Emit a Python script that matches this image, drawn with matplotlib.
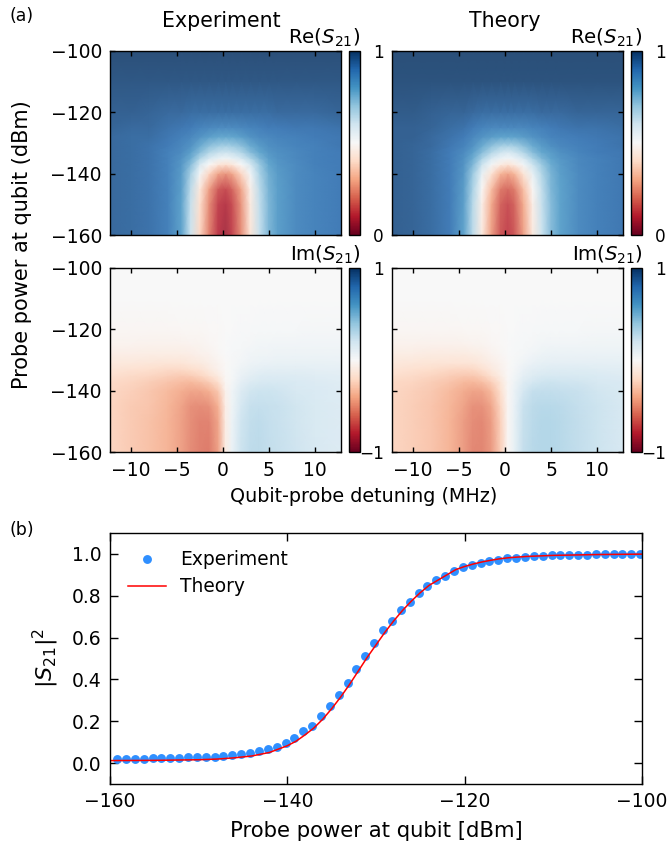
import numpy as np
import matplotlib
matplotlib.use("Agg")
import matplotlib.pyplot as plt
from matplotlib.cm import ScalarMappable
from matplotlib.colors import Normalize, ListedColormap

W, H = 668, 841
detuning = [-12.25,-10,-8,-6,-4.5,-3.5,-2.5,-1.5,-0.5,0.3,1,2,3,4,5,6,8,10,12.85]
power = [-160,-150,-145,-140,-137,-135,-133,-131,-128,-125,-120,-110,-100]

re_exp = [
[.94,.93,.92,.89,.80,.62,.38,.22,.10,.07,.12,.24,.42,.63,.75,.81,.86,.88,.90],
[.94,.93,.92,.89,.80,.63,.40,.24,.12,.09,.13,.25,.44,.64,.75,.81,.86,.88,.90],
[.94,.93,.92,.89,.81,.65,.43,.27,.16,.13,.17,.28,.46,.65,.76,.81,.86,.88,.90],
[.94,.93,.92,.89,.82,.69,.52,.38,.28,.25,.28,.38,.52,.68,.77,.82,.86,.88,.90],
[.94,.93,.92,.89,.83,.74,.60,.50,.43,.41,.43,.50,.60,.71,.79,.83,.86,.89,.90],
[.94,.93,.92,.89,.84,.78,.67,.60,.55,.53,.55,.60,.67,.75,.81,.84,.87,.89,.90],
[.94,.93,.92,.89,.86,.81,.74,.67,.63,.62,.63,.67,.74,.79,.83,.85,.87,.89,.90],
[.94,.93,.92,.90,.87,.84,.78,.73,.70,.69,.70,.73,.78,.82,.85,.86,.88,.89,.91],
[.94,.93,.93,.91,.89,.87,.84,.81,.79,.79,.79,.81,.84,.86,.87,.88,.89,.90,.91],
[.95,.94,.94,.92,.91,.90,.88,.87,.86,.86,.86,.87,.88,.89,.90,.90,.91,.91,.92],
[.96,.96,.95,.94,.94,.93,.93,.93,.93,.93,.93,.93,.93,.93,.93,.94,.94,.94,.95],
[.98,.98,.98,.98,.98,.98,.98,.98,.98,.98,.98,.98,.98,.98,.98,.98,.98,.98,.98],
[1.,1.,1.,1.,1.,1.,1.,1.,1.,1.,1.,1.,1.,1.,1.,1.,1.,1.,1.],
]
re_th = [
[.96,.95,.93,.90,.80,.65,.44,.27,.15,.12,.15,.27,.44,.62,.74,.80,.86,.89,.91],
[.96,.95,.93,.90,.81,.66,.46,.29,.17,.14,.17,.29,.46,.63,.74,.80,.86,.89,.91],
[.96,.95,.93,.90,.82,.68,.49,.33,.21,.18,.21,.33,.49,.64,.75,.80,.86,.89,.91],
[.96,.95,.93,.90,.83,.71,.55,.42,.31,.28,.31,.42,.55,.67,.76,.81,.86,.89,.91],
[.96,.95,.93,.90,.84,.75,.62,.52,.45,.42,.45,.52,.62,.71,.78,.82,.87,.89,.91],
[.96,.95,.93,.90,.85,.78,.68,.60,.54,.52,.54,.60,.68,.75,.80,.83,.87,.89,.91],
[.96,.95,.93,.90,.86,.81,.74,.67,.62,.60,.62,.67,.74,.79,.82,.85,.88,.90,.91],
[.96,.95,.94,.91,.88,.84,.78,.73,.69,.68,.69,.73,.78,.82,.85,.87,.89,.90,.92],
[.96,.96,.94,.92,.90,.87,.84,.82,.80,.80,.80,.82,.84,.86,.88,.89,.90,.91,.92],
[.96,.96,.95,.93,.92,.90,.88,.87,.87,.87,.87,.87,.88,.89,.90,.91,.92,.92,.93],
[.97,.97,.96,.95,.95,.94,.93,.93,.93,.93,.93,.93,.93,.94,.94,.94,.95,.95,.95],
[.99,.99,.99,.99,.99,.99,.99,.99,.99,.99,.99,.99,.99,.99,.99,.99,.99,.99,.99],
[1.,1.,1.,1.,1.,1.,1.,1.,1.,1.,1.,1.,1.,1.,1.,1.,1.,1.,1.],
]
im_exp = [
[-.25,-.29,-.33,-.39,-.46,-.53,-.57,-.58,-.46,-.11,.08,.24,.29,.30,.28,.26,.23,.20,.17],
[-.25,-.29,-.33,-.39,-.46,-.52,-.56,-.56,-.44,-.10,.07,.23,.28,.29,.27,.25,.22,.19,.17],
[-.25,-.29,-.32,-.38,-.45,-.51,-.53,-.51,-.40,-.09,.06,.21,.26,.27,.26,.25,.22,.19,.17],
[-.24,-.27,-.31,-.36,-.41,-.44,-.44,-.40,-.30,-.06,.05,.17,.22,.24,.24,.23,.20,.18,.16],
[-.22,-.25,-.28,-.32,-.35,-.36,-.33,-.28,-.19,-.03,.03,.12,.17,.19,.20,.20,.18,.17,.15],
[-.19,-.22,-.24,-.27,-.29,-.28,-.25,-.19,-.11,-.02,.02,.09,.13,.16,.17,.17,.16,.15,.14],
[-.16,-.18,-.20,-.22,-.22,-.21,-.18,-.12,-.06,-.01,.02,.07,.10,.12,.13,.13,.13,.12,.12],
[-.13,-.14,-.15,-.16,-.16,-.14,-.12,-.08,-.04,-.01,.01,.04,.07,.08,.09,.10,.10,.10,.09],
[-.09,-.09,-.10,-.10,-.10,-.09,-.07,-.05,-.02,0,.01,.03,.05,.06,.06,.07,.07,.07,.07],
[-.05,-.05,-.06,-.06,-.06,-.05,-.04,-.03,-.01,0,.01,.02,.03,.04,.04,.05,.05,.05,.05],
[-.03,-.03,-.03,-.03,-.02,-.02,-.02,-.01,-.01,0,0,.01,.01,.02,.02,.02,.02,.03,.03],
[0,0,0,0,0,0,0,0,0,0,0,0,0,0,0,0,0,0,0],
[0,0,0,0,0,0,0,0,0,0,0,0,0,0,0,0,0,0,0],
]
im_th = [
[-.25,-.28,-.32,-.39,-.47,-.54,-.55,-.48,-.28,-.03,.10,.27,.32,.33,.33,.32,.28,.24,.20],
[-.25,-.28,-.32,-.39,-.47,-.53,-.54,-.47,-.27,-.03,.10,.26,.31,.33,.33,.32,.28,.24,.20],
[-.25,-.28,-.32,-.38,-.45,-.51,-.51,-.44,-.25,-.03,.09,.25,.30,.32,.32,.31,.27,.24,.20],
[-.24,-.27,-.30,-.36,-.42,-.45,-.44,-.36,-.20,-.02,.08,.21,.27,.28,.28,.27,.25,.22,.19],
[-.23,-.25,-.28,-.32,-.36,-.37,-.34,-.27,-.15,-.02,.06,.16,.21,.23,.24,.23,.22,.20,.18],
[-.20,-.22,-.25,-.28,-.30,-.30,-.26,-.19,-.10,-.01,.04,.12,.16,.19,.20,.20,.19,.18,.16],
[-.17,-.19,-.21,-.23,-.24,-.23,-.19,-.13,-.07,-.01,.03,.09,.13,.15,.16,.16,.16,.15,.14],
[-.14,-.15,-.16,-.17,-.17,-.16,-.13,-.09,-.05,-.01,.02,.06,.09,.11,.12,.12,.12,.12,.11],
[-.10,-.10,-.11,-.11,-.11,-.10,-.08,-.05,-.03,0,.01,.03,.05,.07,.08,.08,.08,.08,.08],
[-.06,-.06,-.07,-.07,-.06,-.05,-.04,-.03,-.01,0,.01,.02,.03,.04,.05,.05,.05,.06,.06],
[-.03,-.03,-.03,-.03,-.02,-.02,-.02,-.01,-.01,0,0,.01,.01,.02,.02,.02,.02,.03,.03],
[0,0,0,0,0,0,0,0,0,0,0,0,0,0,0,0,0,0,0],
[0,0,0,0,0,0,0,0,0,0,0,0,0,0,0,0,0,0,0],
]

exp_power = [-159.2+i for i in range(60)]
exp_s21 = [.019,.019,.019,.019,.024,.022,.024,.024,.027,.027,.027,.029,.032,.038,.043,.048,
           .056,.065,.078,.096,.120,.152,.177,.224,.275,.327,.385,.450,.513,.572,.634,.680,
           .730,.772,.811,.847,.877,.896,.918,.936,.947,.958,.965,.973,.979,.982,.986,.989,
           .989,.994,.995,.996,.997,.997,.998,.998,.999,1.0,1.0,1.0]
th_power = [-160,-155,-150,-148,-146,-144,-142,-140,-139,-138,-137,-136,-135,-134,-133,-132,
            -131,-130,-129,-128,-127,-126,-125,-124,-123,-122,-121,-120,-119,-118,-117,-116,
            -115,-113,-110,-105,-100]
th_s21 = [.012,.013,.016,.019,.025,.034,.051,.083,.105,.135,.168,.21,.26,.315,.375,.44,
          .505,.565,.625,.68,.73,.775,.815,.85,.875,.90,.925,.94,.952,.962,.97,.977,
          .982,.988,.993,.997,.999]

x_ticks = [-10,-5,0,5,10]
y_ticks = [-160,-140,-120,-100]
b_xticks = [-160,-140,-120,-100]
b_yticks = [0,.2,.4,.6,.8,1.0]

FS = 13.5
plt.rcParams.update({"font.family": "DejaVu Sans", "mathtext.fontset": "dejavusans",
                     "axes.linewidth": 1.0, "font.size": FS})
fig = plt.figure(figsize=(W/100, H/100), dpi=100)

# RdBu seen through 85 % opacity on white (opaque, so gouraud triangles leave no seams)
base = plt.get_cmap("RdBu")(np.linspace(0, 1, 256))[:, :3]
soft = ListedColormap(0.85 * base + 0.15)

def box(x0, y0, x1, y1):
    return [x0/W, 1-y1/H, (x1-x0)/W, (y1-y0)/H]

def ftext(x, y, s, **kw):
    kw.setdefault("ha", "center")
    kw.setdefault("va", "center")
    kw.setdefault("fontsize", FS)
    fig.text(x/W, 1-y/H, s, **kw)

panels = [
    (110.3, 50.7, 340.7, 235, 349, 360, re_exp, 0, 1, "Re$(S_{21})$", True, False),
    (392.3, 50.7, 623.3, 235, 631, 642, re_th, 0, 1, "Re$(S_{21})$", False, False),
    (110.3, 268, 340.7, 452.3, 349, 360, im_exp, -1, 1, "Im$(S_{21})$", True, True),
    (392.3, 268, 623.3, 452.3, 631, 642, im_th, -1, 1, "Im$(S_{21})$", False, True),
]
for x0, y0, x1, y1, c0, c1, Z, vmin, vmax, lab, showy, showx in panels:
    ax = fig.add_axes(box(x0, y0, x1, y1))
    ax.pcolormesh(detuning, power, np.array(Z), cmap=soft, vmin=vmin, vmax=vmax,
                  shading="gouraud")
    ax.set_xlim(-12.25, 12.85)
    ax.set_ylim(-160, -100)
    ax.set_xticks(x_ticks)
    ax.set_yticks(y_ticks)
    ax.tick_params(direction="in", length=3.6, width=1.0, top=True, right=True,
                   labelleft=showy, labelbottom=showx, labelsize=FS, pad=6)
    cax = fig.add_axes(box(c0, y0, c1, y1))
    cb = fig.colorbar(ScalarMappable(Normalize(vmin, vmax), "RdBu"), cax=cax, ticks=[vmin, vmax])
    cb.ax.tick_params(length=0, labelsize=12.2, pad=17)
    cb.set_ticklabels(["\u2212" + "1" if vmin < 0 else "0", "1"])
    for t in cb.ax.get_yticklabels():
        t.set_ha("right")
    ftext(c1 + 0.5, y0 - 2, lab, ha="right", va="bottom", fontsize=14.2)

ftext(221, 21, "Experiment", fontsize=14.8)
ftext(505, 21, "Theory", fontsize=14.8)
ftext(22, 16, "(a)", fontsize=12.5)
ftext(22, 530, "(b)", fontsize=12.5)
ftext(22, 245, "Probe power at qubit (dBm)", rotation=90, fontsize=15)
ftext(364, 497, "Qubit-probe detuning (MHz)", fontsize=13.8)

ax = fig.add_axes(box(110, 533, 642, 784))
ax.plot(exp_power, exp_s21, "o", color="#2f8fff", ms=6.4, mew=0, label="Experiment")
ax.plot(th_power, th_s21, "-", color="red", lw=1.1, label="Theory")
ax.set_xlim(-160, -100)
ax.set_ylim(-0.1, 1.1)
ax.set_xticks(b_xticks)
ax.set_yticks(b_yticks)
ax.set_yticklabels(["0.0","0.2","0.4","0.6","0.8","1.0"])
ax.tick_params(direction="in", length=5.8, width=1.0, top=True, right=True, labelsize=FS, pad=6)
ax.legend(loc="upper left", bbox_to_anchor=(0.005, 0.99), frameon=False, numpoints=1,
          fontsize=13.4, handlelength=2.05, handletextpad=0.75, labelspacing=0.42, borderpad=0.3)
ftext(46, 658, r"$|S_{21}|^2$", rotation=90, fontsize=16)
ftext(376, 831, "Probe power at qubit [dBm]", fontsize=15.2)

fig.savefig("out.png", dpi=100)
